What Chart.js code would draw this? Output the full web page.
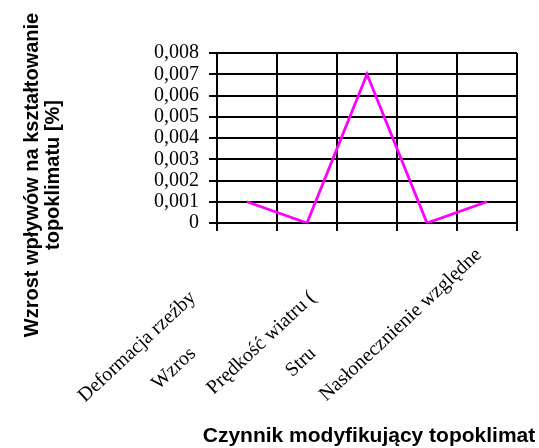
<!DOCTYPE html>
<html>
<head>
<meta charset="utf-8">
<script src="https://cdn.jsdelivr.net/npm/chart.js@4"></script>
<style>
  html, body { margin: 0; padding: 0; background: #fff; }
  canvas { display: block; }
</style>
</head>
<body>
<canvas id="chart" width="539" height="448"></canvas>
<script>
// labels as far as they can be read in the picture (Excel cut most of them off)
const categories = ['Deformacja rzeźby', 'Wzros', 'Prędkość wiatru (', 'Stru', 'Nasłonecznienie względne'];
const values = [0.001, 0, 0.007, 0, 0.001];
const yTicks = [0, 0.001, 0.002, 0.003, 0.004, 0.005, 0.006, 0.007, 0.008];
const yTitle = ['Wzrost wpływów na kształtowanie', 'topoklimatu [%]'];
const xTitle = 'Czynnik modyfikujący topoklimat';

const serif = '"Liberation Serif", "Times New Roman", serif';
const sans = '"Liberation Sans", Arial, sans-serif';
const angle = 43 * Math.PI / 180;

// slanted category names, cut off the way the original is, plus both axis titles
const extras = {
  id: 'extras',
  afterDraw(chart) {
    const ctx = chart.ctx;
    const xs = chart.scales.x;
    const area = chart.chartArea;
    const step = xs.getPixelForValue(1) - xs.getPixelForValue(0);
    ctx.save();
    ctx.font = '20px ' + serif;
    ctx.fillStyle = '#000';
    ctx.textAlign = 'right';
    ctx.textBaseline = 'middle';
    categories.forEach((text, i) => {
      const ax = xs.getPixelForValue(i) - 8;
      const ay = area.bottom + 29;
      let ex = ax;
      if (i < categories.length - 1) {
        ex = Math.min(ax, xs.getPixelForValue(i - i % 2) - step * 0.9);
      }
      const ey = ay + (ax - ex) * Math.tan(angle);
      ctx.save();
      ctx.translate(ex, ey);
      ctx.rotate(-angle);
      ctx.fillText(text, 0, 0);
      ctx.restore();
    });

    ctx.font = 'bold 20px ' + sans;
    ctx.textAlign = 'center';
    yTitle.forEach((line, k) => {
      ctx.save();
      ctx.translate(32 + k * 21, (area.top + area.bottom) / 2 + 37);
      ctx.rotate(-Math.PI / 2);
      ctx.fillText(line, 0, 0);
      ctx.restore();
    });

    ctx.font = 'bold 21px ' + sans;
    ctx.fillText(xTitle, (area.left + area.right) / 2 + 2, 436);
    ctx.restore();
  }
};

new Chart(document.getElementById('chart'), {
  type: 'line',
  data: {
    labels: categories,
    datasets: [{
      data: values,
      borderColor: '#ff00ff',
      borderWidth: 2.8,
      pointRadius: 0,
      tension: 0,
      fill: false
    }]
  },
  options: {
    responsive: false,
    animation: false,
    layout: { padding: { top: 53, right: 22, left: 0, bottom: 0 } },
    plugins: {
      legend: { display: false },
      tooltip: { enabled: false }
    },
    scales: {
      x: {
        offset: true,
        grid: {
          offset: true,
          color: '#000',
          lineWidth: 2,
          drawTicks: true,
          tickLength: 8,
          tickColor: '#000'
        },
        border: { color: '#000', width: 2 },
        ticks: { display: false },
        afterFit(scale) { scale.height = 448 - 223; }
      },
      y: {
        min: 0,
        max: 0.008,
        afterBuildTicks(scale) { scale.ticks = yTicks.map(v => ({ value: v })); },
        grid: {
          color: '#000',
          lineWidth: 2,
          tickLength: 8,
          tickColor: '#000'
        },
        border: { color: '#000', width: 2 },
        ticks: {
          color: '#000',
          autoSkip: false,
          padding: 10,
          font: { family: serif, size: 20 },
          callback: v => v === 0 ? '0' : v.toFixed(3).replace('.', ',')
        },
        afterFit(scale) { scale.width = 217; }
      }
    }
  },
  plugins: [extras]
});
</script>
</body>
</html>
